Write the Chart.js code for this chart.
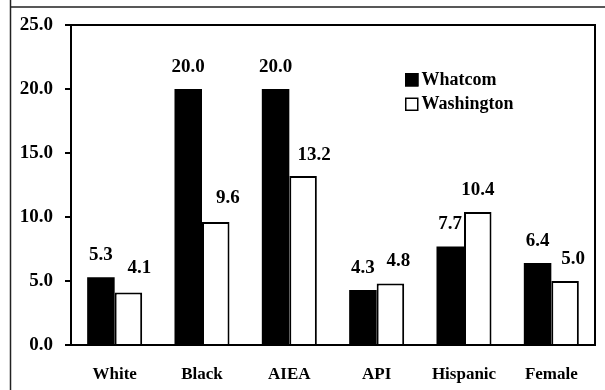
<!DOCTYPE html>
<html>
<head>
<meta charset="utf-8">
<script src="https://cdn.jsdelivr.net/npm/chart.js@4/dist/chart.umd.min.js"></script>
<style>
  html, body { margin: 0; padding: 0; background: #fff; }
  #wrap { width: 605px; height: 390px; }
</style>
</head>
<body>
<div id="wrap"><canvas id="c" width="605" height="390"></canvas></div>
<script>
// Rates by group, county vs. state
const categories = ['White', 'Black', 'AIEA', 'API', 'Hispanic', 'Female'];
const whatcom = [5.3, 20.0, 20.0, 4.3, 7.7, 6.4];
const washington = [4.1, 9.6, 13.2, 4.8, 10.4, 5.0];
const yTicks = [0, 5, 10, 15, 20, 25];
const seriesNames = ['Whatcom', 'Washington'];

const FONT = '"Liberation Serif", "Times New Roman", serif';

// value-label nudges (px) for each series: horizontal shift, gap above bar
const labelNudge = [
  { dx: [0, 0, 0, 0, 0, 0], gap: [17, 17, 17, 17, 17, 17] },
  { dx: [11, 12, 11, 8, 0, 8], gap: [20, 19, 16, 18, 17, 17] }
];

const framePlugin = {
  id: 'frame',
  beforeDraw(chart) {
    const ctx = chart.ctx;
    ctx.save();
    ctx.fillStyle = '#fff';
    ctx.fillRect(0, 0, chart.width, chart.height);
    ctx.strokeStyle = '#222';
    ctx.lineWidth = 1.5;
    ctx.beginPath();
    ctx.moveTo(10.5, 0);
    ctx.lineTo(10.5, chart.height);
    ctx.moveTo(10, 7);
    ctx.lineTo(chart.width, 7);
    ctx.stroke();
    ctx.restore();
  },
  afterDraw(chart) {
    const { ctx, chartArea: a } = chart;
    ctx.save();
    ctx.strokeStyle = '#000';
    ctx.lineWidth = 2;
    ctx.beginPath();
    ctx.moveTo(a.left, a.top);
    ctx.lineTo(a.right, a.top);
    ctx.lineTo(a.right, a.bottom);
    ctx.stroke();
    ctx.restore();
  }
};

const valueLabels = {
  id: 'valueLabels',
  afterDatasetsDraw(chart) {
    const ctx = chart.ctx;
    ctx.save();
    ctx.fillStyle = '#000';
    ctx.font = 'bold 19px ' + FONT;
    ctx.textAlign = 'center';
    ctx.textBaseline = 'alphabetic';
    chart.data.datasets.forEach((ds, di) => {
      const meta = chart.getDatasetMeta(di);
      meta.data.forEach((bar, i) => {
        const n = labelNudge[di];
        ctx.fillText(ds.data[i].toFixed(1), bar.x + n.dx[i], bar.y - n.gap[i]);
      });
    });
    ctx.restore();
  }
};

const boxLegend = {
  id: 'boxLegend',
  afterDraw(chart) {
    const ctx = chart.ctx;
    const x = 405, y0 = 73, rowH = 24.5, box = 13.5;
    ctx.save();
    ctx.font = 'bold 18px ' + FONT;
    ctx.textBaseline = 'middle';
    ctx.textAlign = 'left';
    chart.data.datasets.forEach((ds, di) => {
      const y = y0 + di * rowH;
      ctx.fillStyle = ds.backgroundColor;
      ctx.fillRect(x, y, box, box);
      ctx.strokeStyle = '#000';
      ctx.lineWidth = 1.5;
      ctx.strokeRect(x + 0.75, y + 0.75, box - 1.5, box - 1.5);
      ctx.fillStyle = '#000';
      ctx.fillText(ds.label, x + box + 3, y + box / 2 + 0.5);
    });
    ctx.restore();
  }
};

new Chart(document.getElementById('c'), {
  type: 'bar',
  data: {
    labels: categories,
    datasets: [
      {
        label: seriesNames[0],
        data: whatcom,
        backgroundColor: '#000',
        borderColor: '#000',
        borderWidth: 0
      },
      {
        label: seriesNames[1],
        data: washington,
        backgroundColor: '#fff',
        borderColor: '#000',
        borderWidth: 2
      }
    ]
  },
  options: {
    responsive: false,
    animation: false,
    devicePixelRatio: 1,
    layout: { padding: { top: 25, right: 10, left: 0, bottom: 0 } },
    datasets: { bar: { barPercentage: 1.0, categoryPercentage: 0.63 } },
    plugins: {
      legend: { display: false },
      tooltip: { enabled: false },
      title: { display: false }
    },
    scales: {
      x: {
        grid: { display: false, drawTicks: false },
        border: { display: true, color: '#000', width: 2 },
        ticks: {
          color: '#000',
          padding: 19,
          font: { family: FONT, size: 17, weight: 'bold' }
        },
        afterFit(scale) { scale.height = 45; }
      },
      y: {
        min: 0,
        max: 25,
        afterBuildTicks(scale) { scale.ticks = yTicks.map(v => ({ value: v })); },
        grid: {
          display: true,
          drawOnChartArea: false,
          drawTicks: true,
          tickLength: 6,
          color: '#000',
          lineWidth: 2
        },
        border: { display: true, color: '#000', width: 2 },
        ticks: {
          color: '#000',
          padding: 12,
          font: { family: FONT, size: 19, weight: 'bold' },
          callback: v => Number(v).toFixed(1)
        },
        afterFit(scale) { scale.width = 71; }
      }
    }
  },
  plugins: [framePlugin, valueLabels, boxLegend]
});
</script>
</body>
</html>
